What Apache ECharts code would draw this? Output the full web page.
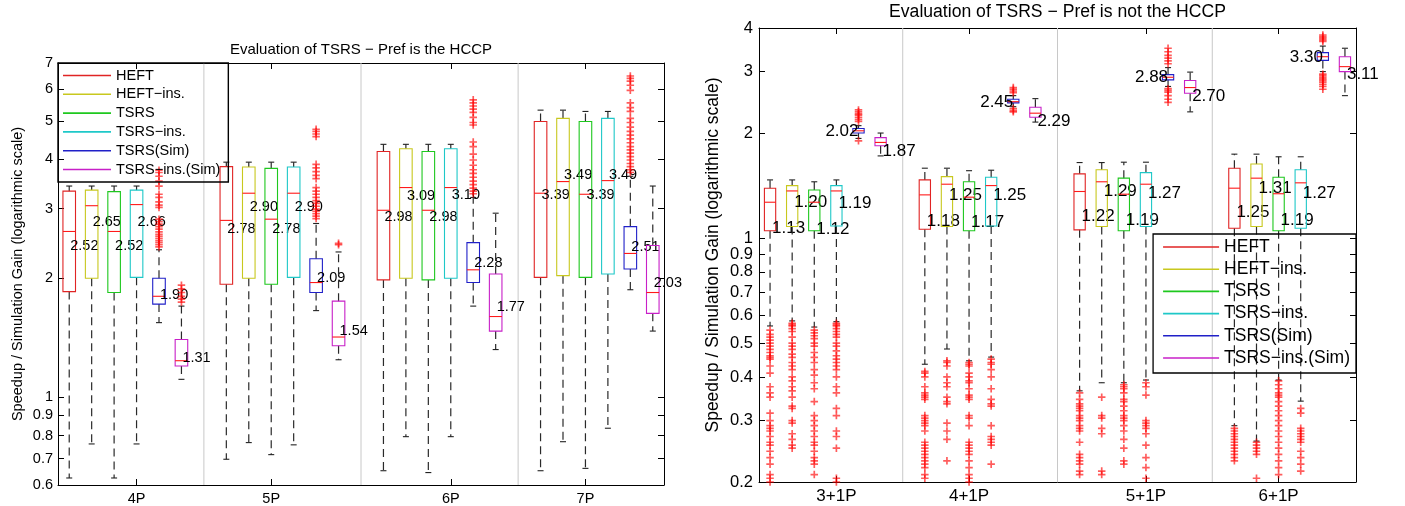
<!DOCTYPE html>
<html><head><meta charset="utf-8">
<script src="https://cdn.jsdelivr.net/npm/echarts@6/dist/echarts.min.js"></script>
<style>html,body{margin:0;padding:0;background:#fff}#c{width:1405px;height:506px}</style>
</head><body><div id="c"></div>
<script>
// ---------- labels ----------
const SERIES_NAMES = ['HEFT', 'HEFT−ins.', 'TSRS', 'TSRS−ins.', 'TSRS(Sim)', 'TSRS−ins.(Sim)'];
const L_TITLE = 'Evaluation of TSRS − Pref is the HCCP';
const R_TITLE = 'Evaluation of TSRS − Pref is not the HCCP';
const Y_NAME = 'Speedup / Simulation Gain (logarithmic scale)';
const L_GROUPS = ['4P', '5P', '6P', '7P'];
const R_GROUPS = ['3+1P', '4+1P', '5+1P', '6+1P'];
const GROUP_TICK_SLOT = [3, 9, 17, 23];
const SEPARATOR_SLOTS = [6, 13, 20];
const L_YTICKS = [0.6, 0.7, 0.8, 0.9, 1, 2, 3, 4, 5, 6, 7];
const R_YTICKS = [0.2, 0.3, 0.4, 0.5, 0.6, 0.7, 0.8, 0.9, 1, 2, 3, 4];

// ---------- left chart: [low whisker, Q1, median, Q3, high whisker] per group ----------
const L_HEFT     = [[0.625, 1.85, 2.625, 3.32, 3.42], [0.697, 1.93, 2.80, 3.83, 3.93], [0.652, 1.98, 2.97, 4.18, 4.36], [0.652, 2.01, 3.28, 4.98, 5.32]];
const L_HEFTINS  = [[0.762, 2.00, 3.05, 3.34, 3.42], [0.768, 2.00, 3.28, 3.82, 3.93], [0.795, 2.00, 3.39, 4.25, 4.36], [0.772, 2.03, 3.51, 5.07, 5.32]];
const L_TSRS     = [[0.625, 1.84, 2.625, 3.31, 3.42], [0.716, 1.93, 2.82, 3.79, 3.93], [0.645, 1.98, 2.97, 4.18, 4.36], [0.661, 2.01, 3.26, 4.98, 5.28]];
const L_TSRSINS  = [[0.762, 2.01, 3.07, 3.34, 3.42], [0.758, 2.01, 3.28, 3.82, 3.93], [0.795, 2.00, 3.39, 4.25, 4.36], [0.835, 2.05, 3.53, 5.07, 5.28]];
const L_SIM      = [[1.544, 1.72, 1.80, 2.00, 2.36], [1.656, 1.84, 1.95, 2.24, 2.75], [1.70, 1.95, 2.10, 2.46, 3.20], [1.87, 2.11, 2.31, 2.70, 3.62]];
const L_INSSIM   = [[1.11, 1.20, 1.237, 1.40, 1.70], [1.244, 1.35, 1.42, 1.75, 2.33], [1.32, 1.47, 1.60, 2.05, 2.92], [1.47, 1.63, 1.84, 2.42, 3.42]];
const L_HEFT_LBL    = [2.52, 2.78, 2.98, 3.39];
const L_HEFTINS_LBL = [2.65, 2.90, 3.09, 3.49];
const L_TSRS_LBL    = [2.52, 2.78, 2.98, 3.39];
const L_TSRSINS_LBL = [2.66, 2.90, 3.10, 3.49];
const L_SIM_LBL     = [1.90, 2.09, 2.28, 2.51];
const L_INSSIM_LBL  = [1.31, 1.54, 1.77, 2.03];
const L_SIM_OUT = [
  [3.75, 3.70, 3.62, 3.52, 3.42, 3.26, 3.20, 3.12, 3.06, 3.02, 2.82, 2.78, 2.74, 2.70, 2.66, 2.62, 2.58, 2.55, 2.52, 2.49, 2.46, 2.43, 2.40],
  [4.76, 4.70, 4.63, 4.56, 3.88, 3.80, 3.72, 3.64, 3.57, 3.39, 3.32, 3.26, 3.20, 3.14, 3.09, 3.04, 2.99, 2.95, 2.91, 2.87, 2.83],
  [5.65, 5.55, 5.45, 5.35, 5.25, 5.10, 4.95, 4.88, 4.42, 4.30, 4.12, 3.98, 3.86, 3.76, 3.68, 3.60, 3.52, 3.45, 3.38, 3.32, 3.27],
  [6.49, 6.40, 6.30, 6.15, 5.97, 5.55, 5.40, 5.28, 5.07, 4.95, 4.82, 4.70, 4.60, 4.50, 4.40, 4.30, 4.22, 4.14, 4.06, 3.98, 3.90, 3.83, 3.76, 3.70]
];
const L_INSSIM_OUT = [[1.74, 1.77, 1.80, 1.84, 1.88, 1.92], [2.43, 2.45], [], []];

// ---------- right chart ----------
const R_HEFT     = [[0.56, 1.05, 1.267, 1.39, 1.468], [0.435, 1.06, 1.33, 1.468, 1.586], [0.365, 1.056, 1.36, 1.528, 1.646], [0.29, 1.067, 1.39, 1.586, 1.74]];
const R_HEFTINS  = [[0.579, 1.08, 1.365, 1.414, 1.468], [0.481, 1.08, 1.427, 1.50, 1.586], [0.385, 1.08, 1.45, 1.57, 1.646], [0.262, 1.08, 1.485, 1.63, 1.74]];
const R_TSRS     = [[0.556, 1.05, 1.267, 1.374, 1.45], [0.445, 1.05, 1.31, 1.45, 1.56], [0.385, 1.05, 1.336, 1.485, 1.65], [0.392, 1.05, 1.34, 1.494, 1.71]];
const R_TSRSINS  = [[0.576, 1.083, 1.365, 1.414, 1.468], [0.456, 1.083, 1.414, 1.494, 1.565], [0.392, 1.08, 1.427, 1.54, 1.65], [0.341, 1.067, 1.44, 1.57, 1.71]];
const R_SIM      = [[1.93, 2.00, 2.03, 2.06, 2.10], [2.38, 2.44, 2.46, 2.50, 2.56], [2.72, 2.84, 2.89, 2.94, 3.08], [3.00, 3.23, 3.31, 3.40, 3.55]];
const R_INSSIM   = [[1.72, 1.84, 1.88, 1.94, 2.00], [2.15, 2.22, 2.28, 2.37, 2.51], [2.30, 2.60, 2.70, 2.83, 2.99], [2.56, 3.00, 3.10, 3.31, 3.50]];
const R_HEFT_LBL    = [1.13, 1.18, 1.22, 1.25];
const R_HEFTINS_LBL = [1.20, 1.25, 1.29, 1.31];
const R_TSRS_LBL    = [1.12, 1.17, 1.19, 1.19];
const R_TSRSINS_LBL = [1.19, 1.25, 1.27, 1.27];
const R_SIM_LBL     = [2.02, 2.45, 2.88, 3.30];
const R_INSSIM_LBL  = [1.87, 2.29, 2.70, 3.11];
const R_HEFT_OUT = [
  [0.545, 0.53, 0.52, 0.51, 0.50, 0.49, 0.48, 0.47, 0.46, 0.455, 0.45, 0.43, 0.41, 0.375, 0.36, 0.35, 0.315, 0.30, 0.29, 0.285, 0.28, 0.27, 0.26, 0.255, 0.245, 0.235, 0.225, 0.21, 0.205, 0.20],
  [0.415, 0.41, 0.40, 0.375, 0.36, 0.355, 0.35, 0.345, 0.31, 0.305, 0.30, 0.295, 0.29, 0.28, 0.26, 0.255, 0.25, 0.245, 0.24, 0.235, 0.23, 0.225, 0.22, 0.21, 0.205],
  [0.36, 0.345, 0.335, 0.33, 0.325, 0.32, 0.31, 0.305, 0.30, 0.29, 0.285, 0.28, 0.26, 0.24, 0.235, 0.23, 0.225, 0.215, 0.21],
  [0.285, 0.28, 0.275, 0.27, 0.265, 0.26, 0.255, 0.25, 0.245, 0.24, 0.235, 0.23]
];
const R_HEFTINS_OUT = [
  [0.57, 0.565, 0.56, 0.55, 0.54, 0.52, 0.50, 0.49, 0.48, 0.465, 0.455, 0.44, 0.43, 0.42, 0.40, 0.39, 0.375, 0.365, 0.35, 0.33, 0.325, 0.30, 0.295, 0.275, 0.265, 0.255, 0.25],
  [0.445, 0.44, 0.43, 0.40, 0.385, 0.375, 0.35, 0.34, 0.335, 0.295, 0.28, 0.265, 0.23],
  [0.35, 0.31, 0.305, 0.285, 0.275, 0.215, 0.21],
  [0.26, 0.255, 0.25, 0.245, 0.24, 0.205]
];
const R_TSRS_OUT = [
  [0.545, 0.535, 0.525, 0.515, 0.50, 0.49, 0.47, 0.455, 0.44, 0.42, 0.405, 0.385, 0.37, 0.34, 0.31, 0.30, 0.29, 0.28, 0.27, 0.26, 0.255, 0.245, 0.235, 0.23, 0.225, 0.21],
  [0.44, 0.435, 0.43, 0.41, 0.40, 0.39, 0.385, 0.37, 0.355, 0.35, 0.345, 0.31, 0.305, 0.29, 0.26, 0.255, 0.25, 0.245, 0.24, 0.23, 0.22, 0.21, 0.205, 0.20],
  [0.38, 0.375, 0.37, 0.36, 0.345, 0.34, 0.33, 0.32, 0.31, 0.305, 0.30, 0.29, 0.28, 0.265, 0.25, 0.23, 0.225],
  [0.39, 0.38, 0.37, 0.36, 0.355, 0.35, 0.34, 0.33, 0.32, 0.31, 0.30, 0.29, 0.28, 0.27, 0.26, 0.25, 0.24, 0.23, 0.22, 0.21]
];
const R_TSRSINS_OUT = [
  [0.57, 0.565, 0.56, 0.55, 0.54, 0.53, 0.52, 0.50, 0.49, 0.475, 0.46, 0.45, 0.44, 0.43, 0.42, 0.40, 0.375, 0.36, 0.325, 0.31, 0.28, 0.27, 0.25, 0.205, 0.20],
  [0.45, 0.44, 0.435, 0.42, 0.40, 0.37, 0.345, 0.335, 0.33, 0.29, 0.27, 0.265, 0.26, 0.255, 0.225],
  [0.385, 0.375, 0.355, 0.30, 0.295, 0.29, 0.285, 0.275, 0.255, 0.235, 0.22, 0.205],
  [0.325, 0.315, 0.285, 0.28, 0.275, 0.27, 0.265, 0.26, 0.245, 0.235, 0.225, 0.215]
];
const R_SIM_OUT = [
  [2.33, 2.30, 2.27, 2.25, 2.22, 2.19, 2.16, 1.90],
  [2.70, 2.67, 2.64, 2.61, 2.35, 2.32, 2.30],
  [3.50, 3.42, 3.34, 3.28, 3.22, 3.16, 2.68, 2.65, 2.62, 2.56, 2.50, 2.45],
  [3.82, 3.78, 3.74, 3.70, 3.66, 2.95, 2.92, 2.89, 2.86, 2.83, 2.80, 2.76, 2.72, 2.67]
];

// ---------- styles ----------
const FONT = '"Liberation Sans", Arial, Helvetica, sans-serif';
const COLORS = ['#e02424', '#c8c81e', '#1ec81e', '#1ec8c8', '#2020c8', '#c820c8'];
const SLOTS_PER_GROUP = 7;

function boxData(stats, lbls, seriesIdx) {
  return stats.map((s, g) => [g * SLOTS_PER_GROUP + seriesIdx, s[0], s[1], s[2], s[3], s[4], lbls[g]]);
}
function outData(perGroup, seriesIdx) {
  const out = [];
  perGroup.forEach((vals, g) => vals.forEach(v => out.push([g * SLOTS_PER_GROUP + seriesIdx, v])));
  return out;
}

function makeBoxRenderer(o) {
  return function (params, api) {
    const slot = api.value(0);
    const p = v => api.coord([slot, v]);
    const cx = p(api.value(3))[0];
    const unit = api.coord([slot + 1, api.value(3)])[0] - cx;
    const hw = unit * o.boxHalf;
    const yLow = p(api.value(1))[1], yQ1 = p(api.value(2))[1], yMed = p(api.value(3))[1],
          yQ3 = p(api.value(4))[1], yHigh = p(api.value(5))[1];
    const lbl = api.value(6);
    const color = api.visual('color');
    const dash = { stroke: '#2a2a2a', lineWidth: 1.2, lineDash: [8, 5] };
    const blk = { stroke: '#222', lineWidth: 1.1 };
    return {
      type: 'group',
      children: [
        { type: 'line', shape: { x1: cx, y1: yQ3, x2: cx, y2: yHigh }, style: dash },
        { type: 'line', shape: { x1: cx, y1: yQ1, x2: cx, y2: yLow }, style: dash },
        { type: 'line', shape: { x1: cx - o.capHalf, y1: yHigh, x2: cx + o.capHalf, y2: yHigh }, style: blk },
        { type: 'line', shape: { x1: cx - o.capHalf, y1: yLow, x2: cx + o.capHalf, y2: yLow }, style: blk },
        { type: 'rect', shape: { x: cx - hw, y: yQ3, width: 2 * hw, height: yQ1 - yQ3 }, style: { fill: 'none', stroke: color, lineWidth: 1.1 } },
        { type: 'line', shape: { x1: cx - hw, y1: yMed, x2: cx + hw, y2: yMed }, style: { stroke: '#ff1a1a', lineWidth: 1.1 } },
        { type: 'text', x: cx + o.dx, y: p(lbl)[1], style: { text: lbl.toFixed(2), fill: '#000', fontSize: o.fontSize, fontFamily: FONT, align: o.align, verticalAlign: o.vAlign } }
      ]
    };
  };
}

const PLUS = 'path://M-0.9,-4H0.9V-0.9H4V0.9H0.9V4H-0.9V0.9H-4V-0.9H-0.9Z';

function separatorSeries(xi, yi) {
  return {
    type: 'custom', xAxisIndex: xi, yAxisIndex: yi, silent: true, z: 1,
    encode: { x: 0, y: 1 },
    data: SEPARATOR_SLOTS.map(s => [s, 1]),
    renderItem: (params, api) => {
      const cs = params.coordSys;
      const x = api.coord([api.value(0), 1])[0];
      return { type: 'line', shape: { x1: x, y1: cs.y, x2: x, y2: cs.y + cs.height }, style: { stroke: '#c8c8c8', lineWidth: 1 } };
    }
  };
}

const L_STATS = [L_HEFT, L_HEFTINS, L_TSRS, L_TSRSINS, L_SIM, L_INSSIM];
const L_LBLS = [L_HEFT_LBL, L_HEFTINS_LBL, L_TSRS_LBL, L_TSRSINS_LBL, L_SIM_LBL, L_INSSIM_LBL];
const R_STATS = [R_HEFT, R_HEFTINS, R_TSRS, R_TSRSINS, R_SIM, R_INSSIM];
const R_LBLS = [R_HEFT_LBL, R_HEFTINS_LBL, R_TSRS_LBL, R_TSRSINS_LBL, R_SIM_LBL, R_INSSIM_LBL];
const L_VALIGN = ['top', 'bottom', 'top', 'bottom', 'top', 'top'];
const R_VALIGN = ['top', 'bottom', 'top', 'bottom', 'middle', 'top'];
const R_ALIGN = ['left', 'left', 'left', 'left', 'right', 'left'];

const series = [separatorSeries(0, 0), separatorSeries(2, 2)];
SERIES_NAMES.forEach((name, s) => {
  series.push({
    type: 'custom', name, xAxisIndex: 0, yAxisIndex: 0, z: 2,
    itemStyle: { color: COLORS[s] },
    encode: { x: 0, y: [1, 2, 3, 4, 5] },
    data: boxData(L_STATS[s], L_LBLS[s], s),
    renderItem: makeBoxRenderer({ boxHalf: 0.28, capHalf: 3, dx: 1, fontSize: 14.5, align: 'left', vAlign: L_VALIGN[s] })
  });
});
SERIES_NAMES.forEach((name, s) => {
  series.push({
    type: 'custom', name, xAxisIndex: 2, yAxisIndex: 2, z: 2,
    itemStyle: { color: COLORS[s] },
    encode: { x: 0, y: [1, 2, 3, 4, 5] },
    data: boxData(R_STATS[s], R_LBLS[s], s),
    renderItem: makeBoxRenderer({ boxHalf: 0.255, capHalf: 3, dx: R_ALIGN[s] === 'right' ? 0 : 2, fontSize: 17, align: R_ALIGN[s], vAlign: R_VALIGN[s] })
  });
});
const outStyle = { type: 'scatter', symbol: PLUS, symbolSize: 7.5, z: 3, silent: true, itemStyle: { color: 'rgba(255,0,0,0.8)' } };
series.push(Object.assign({}, outStyle, { name: 'outliers-L', xAxisIndex: 0, yAxisIndex: 0,
  data: [].concat(outData(L_SIM_OUT, 4), outData(L_INSSIM_OUT, 5)) }));
series.push(Object.assign({}, outStyle, { name: 'outliers-R', xAxisIndex: 2, yAxisIndex: 2,
  data: [].concat(outData(R_HEFT_OUT, 0), outData(R_HEFTINS_OUT, 1), outData(R_TSRS_OUT, 2), outData(R_TSRSINS_OUT, 3), outData(R_SIM_OUT, 4)) }));

function xAxes(grid, groups, fs, margin) {
  const common = { gridIndex: grid, type: 'value', min: -0.5, max: 26.5, splitLine: { show: false },
    axisLine: { show: true, onZero: false, lineStyle: { color: '#000', width: 1 } } };
  return [
    Object.assign({}, common, { position: 'bottom',
      axisTick: { show: true, inside: true, length: 6, customValues: GROUP_TICK_SLOT, lineStyle: { color: '#000' } },
      axisLabel: { show: true, customValues: GROUP_TICK_SLOT, formatter: v => groups[GROUP_TICK_SLOT.indexOf(Math.round(v))] || '',
        fontSize: fs, color: '#000', fontFamily: FONT, margin } }),
    Object.assign({}, common, { position: 'top',
      axisTick: { show: true, inside: true, length: 6, customValues: GROUP_TICK_SLOT, lineStyle: { color: '#000' } },
      axisLabel: { show: false } })
  ];
}
function yAxes(grid, min, max, ticks, fs, margin, nameFs, nameGap) {
  const common = { gridIndex: grid, type: 'log', logBase: 10, min, max, splitLine: { show: false },
    axisLine: { show: true, onZero: false, lineStyle: { color: '#000', width: 1 } },
    axisTick: { show: true, inside: true, length: 6, customValues: ticks, lineStyle: { color: '#000' } } };
  return [
    Object.assign({}, common, { position: 'left',
      axisLabel: { show: true, customValues: ticks, formatter: v => String(+(+v).toFixed(2)), fontSize: fs, color: '#000', fontFamily: FONT, margin },
      name: Y_NAME, nameLocation: 'middle', nameGap, nameTextStyle: { fontSize: nameFs, color: '#000', fontFamily: FONT } }),
    Object.assign({}, common, { position: 'right', axisLabel: { show: false } })
  ];
}

const lineIcon = w => 'path://M0,0H' + w + 'V1.6H0Z';

const option = {
  animation: false,
  backgroundColor: '#fff',
  grid: [
    { left: 58, right: 741, top: 63, bottom: 21 },
    { left: 759, right: 49, top: 28, bottom: 24 }
  ],
  xAxis: [].concat(xAxes(0, L_GROUPS, 14.5, 6), xAxes(1, R_GROUPS, 17, 6)),
  yAxis: [].concat(yAxes(0, 0.6, 7, L_YTICKS, 14.5, 5, 14.5, 33), yAxes(1, 0.2, 4, R_YTICKS, 16.5, 6, 17.5, 37)),
  legend: [
    { data: SERIES_NAMES, orient: 'vertical', left: 58, top: 63, padding: [4, 8, 4, 5], itemGap: 1.8,
      itemWidth: 48, itemHeight: 1.6, icon: lineIcon(48), selectedMode: false,
      borderColor: '#000', borderWidth: 1.4, backgroundColor: 'transparent',
      textStyle: { fontSize: 14.5, lineHeight: 17, color: '#000', fontFamily: FONT } },
    { data: SERIES_NAMES, orient: 'vertical', right: 49, top: 234, padding: [3, 6, 5, 10], itemGap: 2.2,
      itemWidth: 56, itemHeight: 1.6, icon: lineIcon(56), selectedMode: false,
      borderColor: '#000', borderWidth: 1.3, backgroundColor: 'transparent',
      textStyle: { fontSize: 17.5, lineHeight: 20, color: '#000', fontFamily: FONT } }
  ],
  graphic: [
    { type: 'text', x: 361, y: 50, style: { text: L_TITLE, fontSize: 15, fontFamily: FONT, fill: '#000', align: 'center', verticalAlign: 'middle' } },
    { type: 'text', x: 1057.5, y: 12.5, style: { text: R_TITLE, fontSize: 17.6, fontFamily: FONT, fill: '#000', align: 'center', verticalAlign: 'middle' } }
  ],
  series
};
const chart = echarts.init(document.getElementById('c'), null, { renderer: 'canvas' });
chart.setOption(option);
</script></body></html>
